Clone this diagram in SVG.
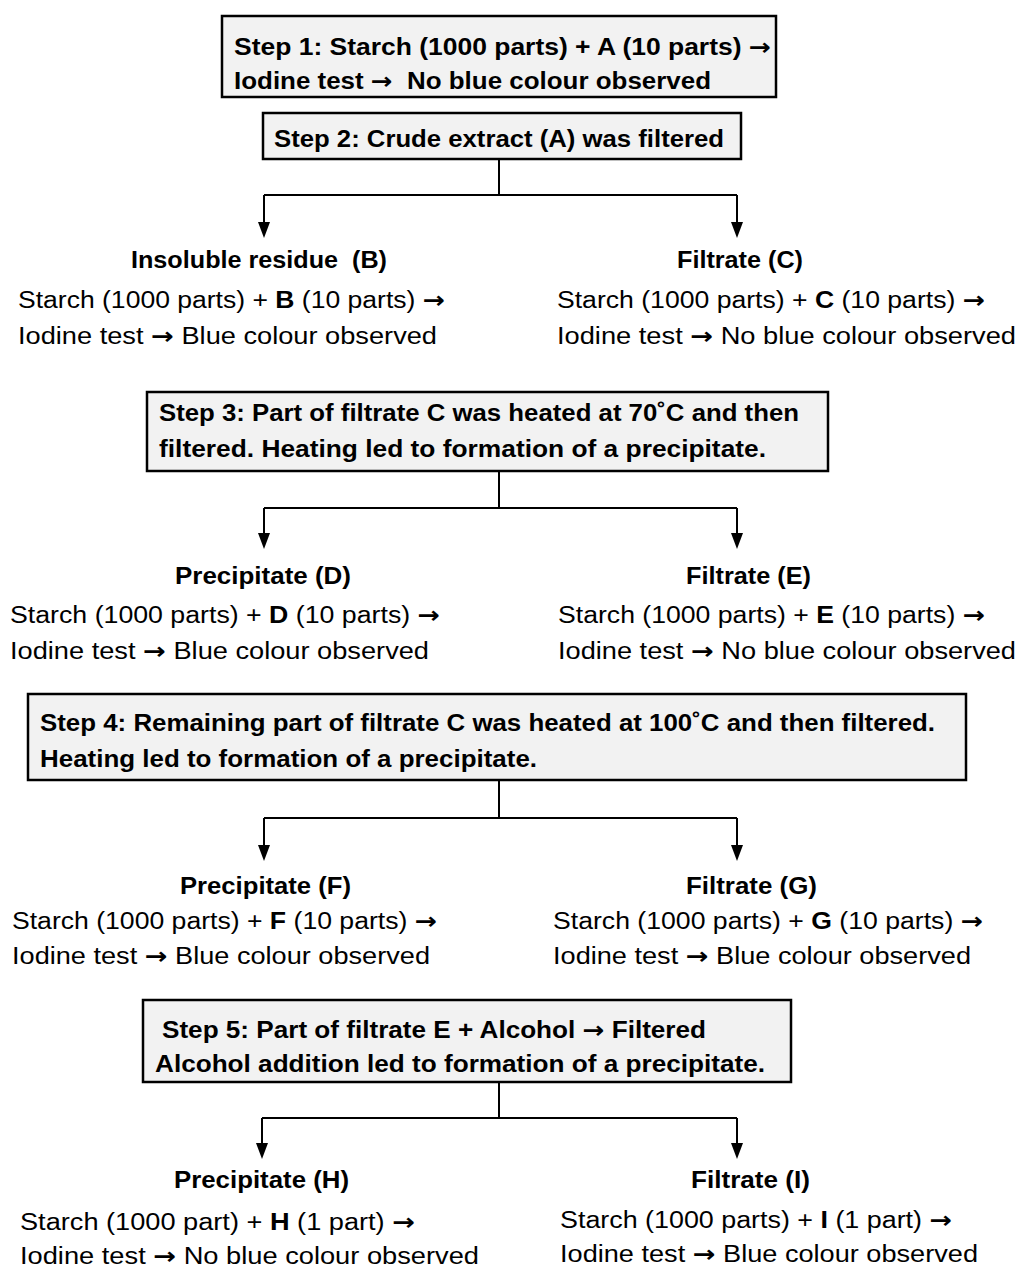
<svg xmlns="http://www.w3.org/2000/svg" width="1019" height="1268" viewBox="0 0 1019 1268">
<style>
.box{fill:#f2f2f2;stroke:#000;stroke-width:2.5}
.t{font-family:"Liberation Sans",Arial,sans-serif;font-size:23px;fill:#000}
.b{font-weight:bold}
.a{font-family:"DejaVu Sans",sans-serif;font-weight:bold}
.c{fill:none;stroke:#000;stroke-width:2}
</style>
<rect width="1019" height="1268" fill="#fff"/>

<g id="connectors">
<path class="c" d="M499,159 V195 M264,195 H737"/>
<line class="c" x1="264" y1="195" x2="264" y2="222"/>
<line class="c" x1="737" y1="195" x2="737" y2="222"/>
<polygon points="258,222 270,222 264,238" fill="#000"/>
<polygon points="731,222 743,222 737,238" fill="#000"/>

<path class="c" d="M499,471 V508 M264,508 H737"/>
<line class="c" x1="264" y1="508" x2="264" y2="533"/>
<line class="c" x1="737" y1="508" x2="737" y2="533"/>
<polygon points="258,533 270,533 264,549" fill="#000"/>
<polygon points="731,533 743,533 737,549" fill="#000"/>

<path class="c" d="M499,780 V818 M264,818 H737"/>
<line class="c" x1="264" y1="818" x2="264" y2="845"/>
<line class="c" x1="737" y1="818" x2="737" y2="845"/>
<polygon points="258,845 270,845 264,861" fill="#000"/>
<polygon points="731,845 743,845 737,861" fill="#000"/>

<path class="c" d="M499,1082 V1118 M262,1118 H737"/>
<line class="c" x1="262" y1="1118" x2="262" y2="1143"/>
<line class="c" x1="737" y1="1118" x2="737" y2="1143"/>
<polygon points="256,1143 268,1143 262,1159" fill="#000"/>
<polygon points="731,1143 743,1143 737,1159" fill="#000"/>
</g>

<g id="step1">
<rect class="box" x="222" y="16" width="554" height="81"/>
<text class="t b" x="234" y="55" textLength="537" lengthAdjust="spacingAndGlyphs">Step 1: Starch (1000 parts) + A (10 parts) <tspan class="a">→</tspan></text>
<text class="t b" x="234" y="89" textLength="477" lengthAdjust="spacingAndGlyphs" xml:space="preserve">Iodine test <tspan class="a">→</tspan>  No blue colour observed</text>
</g>

<g id="step2">
<rect class="box" x="263" y="113" width="478" height="46"/>
<text class="t b" x="274" y="147" textLength="450" lengthAdjust="spacingAndGlyphs">Step 2: Crude extract (A) was filtered</text>
</g>

<g id="nodeB">
<text class="t b" x="131" y="268" textLength="256" lengthAdjust="spacingAndGlyphs" xml:space="preserve">Insoluble residue  (B)</text>
<text class="t" x="18" y="308" textLength="427" lengthAdjust="spacingAndGlyphs">Starch (1000 parts) + <tspan class="b">B</tspan> (10 parts) <tspan class="a">→</tspan></text>
<text class="t" x="18" y="344" textLength="419" lengthAdjust="spacingAndGlyphs">Iodine test <tspan class="a">→</tspan> Blue colour observed</text>
</g>

<g id="nodeC">
<text class="t b" x="677" y="268" textLength="126" lengthAdjust="spacingAndGlyphs">Filtrate (C)</text>
<text class="t" x="557" y="308" textLength="428" lengthAdjust="spacingAndGlyphs">Starch (1000 parts) + <tspan class="b">C</tspan> (10 parts) <tspan class="a">→</tspan></text>
<text class="t" x="557" y="344" textLength="459" lengthAdjust="spacingAndGlyphs">Iodine test <tspan class="a">→</tspan> No blue colour observed</text>
</g>

<g id="step3">
<rect class="box" x="147" y="392" width="681" height="79"/>
<text class="t b" x="159" y="421" textLength="640" lengthAdjust="spacingAndGlyphs">Step 3: Part of filtrate C was heated at 70˚C and then</text>
<text class="t b" x="159" y="457" textLength="607" lengthAdjust="spacingAndGlyphs">filtered. Heating led to formation of a precipitate.</text>
</g>

<g id="nodeD">
<text class="t b" x="175" y="584" textLength="176" lengthAdjust="spacingAndGlyphs">Precipitate (D)</text>
<text class="t" x="10" y="623" textLength="430" lengthAdjust="spacingAndGlyphs">Starch (1000 parts) + <tspan class="b">D</tspan> (10 parts) <tspan class="a">→</tspan></text>
<text class="t" x="10" y="659" textLength="419" lengthAdjust="spacingAndGlyphs">Iodine test <tspan class="a">→</tspan> Blue colour observed</text>
</g>

<g id="nodeE">
<text class="t b" x="686" y="584" textLength="125" lengthAdjust="spacingAndGlyphs">Filtrate (E)</text>
<text class="t" x="558" y="623" textLength="427" lengthAdjust="spacingAndGlyphs">Starch (1000 parts) + <tspan class="b">E</tspan> (10 parts) <tspan class="a">→</tspan></text>
<text class="t" x="558" y="659" textLength="458" lengthAdjust="spacingAndGlyphs">Iodine test <tspan class="a">→</tspan> No blue colour observed</text>
</g>

<g id="step4">
<rect class="box" x="28" y="694" width="938" height="86"/>
<text class="t b" x="40" y="731" textLength="895" lengthAdjust="spacingAndGlyphs">Step 4: Remaining part of filtrate C was heated at 100˚C and then filtered.</text>
<text class="t b" x="40" y="767" textLength="497" lengthAdjust="spacingAndGlyphs">Heating led to formation of a precipitate.</text>
</g>

<g id="nodeF">
<text class="t b" x="180" y="894" textLength="171" lengthAdjust="spacingAndGlyphs">Precipitate (F)</text>
<text class="t" x="12" y="929" textLength="425" lengthAdjust="spacingAndGlyphs">Starch (1000 parts) + <tspan class="b">F</tspan> (10 parts) <tspan class="a">→</tspan></text>
<text class="t" x="12" y="964" textLength="418" lengthAdjust="spacingAndGlyphs">Iodine test <tspan class="a">→</tspan> Blue colour observed</text>
</g>

<g id="nodeG">
<text class="t b" x="686" y="894" textLength="131" lengthAdjust="spacingAndGlyphs">Filtrate (G)</text>
<text class="t" x="553" y="929" textLength="430" lengthAdjust="spacingAndGlyphs">Starch (1000 parts) + <tspan class="b">G</tspan> (10 parts) <tspan class="a">→</tspan></text>
<text class="t" x="553" y="964" textLength="418" lengthAdjust="spacingAndGlyphs">Iodine test <tspan class="a">→</tspan> Blue colour observed</text>
</g>

<g id="step5">
<rect class="box" x="143" y="1000" width="648" height="82"/>
<text class="t b" x="162" y="1038" textLength="544" lengthAdjust="spacingAndGlyphs">Step 5: Part of filtrate E + Alcohol <tspan class="a">→</tspan> Filtered</text>
<text class="t b" x="155" y="1072" textLength="610" lengthAdjust="spacingAndGlyphs">Alcohol addition led to formation of a precipitate.</text>
</g>

<g id="nodeH">
<text class="t b" x="174" y="1188" textLength="175" lengthAdjust="spacingAndGlyphs">Precipitate (H)</text>
<text class="t" x="20" y="1230" textLength="395" lengthAdjust="spacingAndGlyphs">Starch (1000 part) + <tspan class="b">H</tspan> (1 part) <tspan class="a">→</tspan></text>
<text class="t" x="20" y="1264" textLength="459" lengthAdjust="spacingAndGlyphs">Iodine test <tspan class="a">→</tspan> No blue colour observed</text>
</g>

<g id="nodeI">
<text class="t b" x="691" y="1188" textLength="119" lengthAdjust="spacingAndGlyphs">Filtrate (I)</text>
<text class="t" x="560" y="1228" textLength="392" lengthAdjust="spacingAndGlyphs">Starch (1000 parts) + <tspan class="b">I</tspan> (1 part) <tspan class="a">→</tspan></text>
<text class="t" x="560" y="1262" textLength="418" lengthAdjust="spacingAndGlyphs">Iodine test <tspan class="a">→</tspan> Blue colour observed</text>
</g>
</svg>
